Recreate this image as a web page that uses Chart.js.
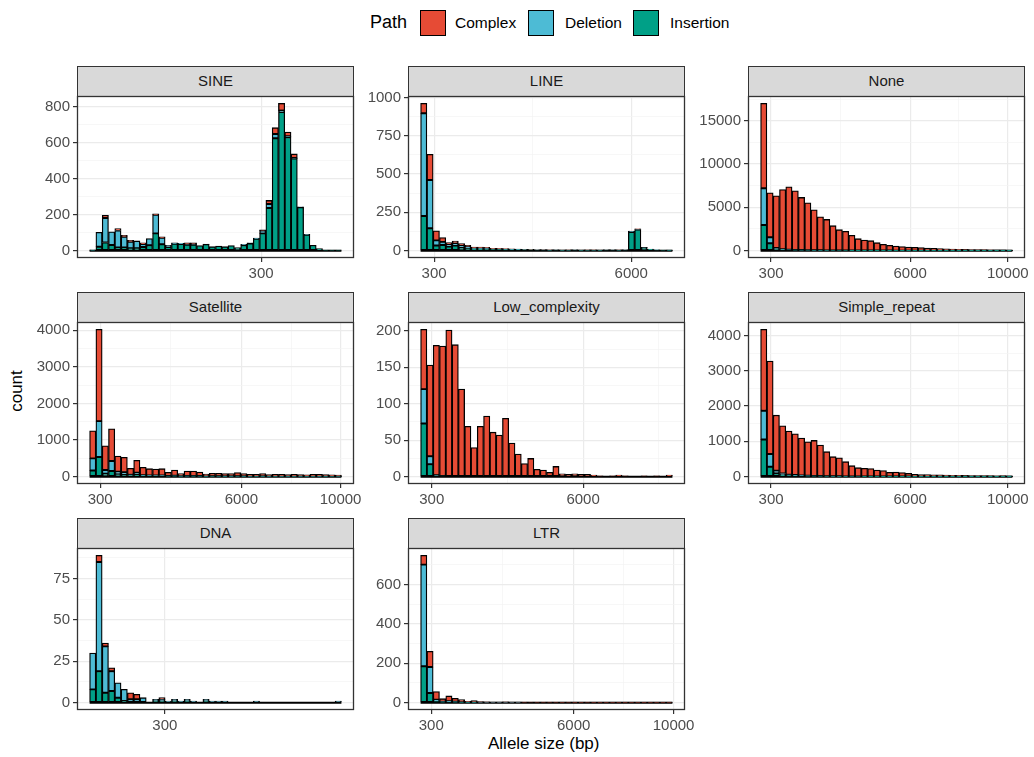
<!DOCTYPE html>
<html>
<head>
<meta charset="utf-8">
<script src="https://cdn.jsdelivr.net/npm/chart.js@4.4.1/dist/chart.umd.min.js"></script>
<style>
  body { margin: 0; width: 1034px; height: 757px; background: #fff; position: relative; overflow: hidden; font-family: "Liberation Sans", Arial, sans-serif; }
  .strip { position: absolute; height: 31px; background: #D9D9D9; border: 1.3px solid #333; box-sizing: border-box; color: #1A1A1A; font-size: 15px; text-align: center; line-height: 28px; }
  canvas { position: absolute; }
  .txt { position: absolute; white-space: nowrap; }
  .key { position: absolute; width: 24px; height: 24px; border: 1.3px solid #000; }
</style>
</head>
<body>
<div class="txt" style="left:370px;top:12px;font-size:18px;color:#000;">Path</div>
<div class="key" style="left:420px;top:10px;background:#E64B35;"></div>
<div class="txt" style="left:455px;top:14px;font-size:15.5px;">Complex</div>
<div class="key" style="left:528px;top:10px;background:#4DBBD5;"></div>
<div class="txt" style="left:565px;top:14px;font-size:15.5px;">Deletion</div>
<div class="key" style="left:633px;top:10px;background:#00A087;"></div>
<div class="txt" style="left:670px;top:14px;font-size:15.5px;">Insertion</div>
<div class="txt" style="left:-4px;top:381px;font-size:17px;transform:rotate(-90deg);">count</div>
<div class="txt" style="left:488px;top:734px;font-size:17px;">Allele size (bp)</div>
<div id="panels"></div>
<script>
const panelNames = ["SINE", "LINE", "None", "Satellite", "Low_complexity", "Simple_repeat", "DNA", "LTR"];
const binWidths = [9.45, 182, 258, 254, 237, 258, 22.3, 252];
const firstBins = [47.25, 0, 0, 0, 0, 0, 44.6, 0];

const xTicks = [[300], [300, 6000], [300, 6000, 10000], [300, 6000, 10000], [300, 6000], [300, 6000, 10000], [300], [300, 6000, 10000]];
const yTicks = [
  [0, 200, 400, 600, 800],
  [0, 250, 500, 750, 1000],
  [0, 5000, 10000, 15000],
  [0, 1000, 2000, 3000, 4000],
  [0, 50, 100, 150, 200],
  [0, 1000, 2000, 3000, 4000],
  [0, 25, 50, 75],
  [0, 200, 400, 600],
];

const sineInsertion = [2, 22, 45, 31, 18, 18, 13, 13, 20, 30, 96, 35, 20, 38, 36, 33, 33, 28, 35, 22, 26, 22, 28, 17, 30, 40, 66, 96, 237, 624, 770, 630, 511, 241, 88, 30, 11, 3, 2, 2];
const sineDeletion = [1, 80, 136, 74, 94, 59, 36, 41, 17, 37, 103, 36, 10, 5, 5, 5, 5, 0, 2, 0, 0, 0, 0, 0, 5, 4, 4, 15, 22, 24, 8, 5, 4, 2, 3, 0, 0, 0, 0, 0];
const sineComplex = [0, 0, 15, 0, 10, 8, 8, 0, 7, 0, 5, 5, 0, 0, 0, 5, 6, 0, 0, 0, 0, 0, 0, 0, 0, 0, 0, 4, 20, 35, 40, 24, 22, 0, 0, 0, 0, 0, 0, 0];

const lineInsertion = [226, 146, 33, 37, 26, 33, 20, 15, 12, 12, 11, 8, 8, 7, 6, 6, 5, 5, 4, 4, 3, 4, 2, 3, 4, 2, 3, 3, 2, 4, 4, 3, 4, 122, 138, 20, 9, 4, 3, 2];
const lineDeletion = [670, 315, 34, 20, 17, 15, 16, 10, 6, 6, 5, 3, 3, 3, 2, 2, 2, 1, 1, 1, 1, 1, 1, 1, 1, 1, 1, 1, 1, 1, 1, 1, 1, 4, 3, 1, 1, 1, 0, 1];
const lineComplex = [65, 167, 63, 28, 9, 15, 10, 10, 6, 6, 6, 4, 4, 3, 3, 2, 2, 2, 1, 2, 1, 1, 1, 1, 1, 1, 1, 1, 1, 1, 1, 1, 1, 2, 2, 1, 0, 0, 0, 0];

const noneInsertion = [2950, 845, 200, 100, 80, 60, 50, 40, 30, 25, 20, 15, 12, 10, 8, 6, 5, 5, 4, 4, 3, 3, 3, 2, 2, 2, 2, 2, 1, 1, 1, 1, 1, 1, 1, 1, 1, 1, 1, 1];
const noneDeletion = [4250, 690, 100, 50, 40, 30, 25, 20, 15, 12, 10, 8, 6, 5, 4, 3, 3, 2, 2, 2, 2, 1, 1, 1, 1, 1, 1, 1, 1, 1, 1, 1, 1, 1, 1, 1, 1, 1, 1, 1];
const noneComplex = [9800, 5145, 6030, 6910, 7250, 6810, 6065, 5465, 4675, 3863, 3570, 2857, 2402, 2210, 1753, 1371, 1222, 1143, 914, 724, 610, 536, 456, 417, 382, 342, 297, 267, 228, 198, 178, 158, 138, 128, 118, 108, 98, 88, 78, 68];

const satInsertion = [170, 536, 80, 155, 70, 60, 30, 50, 25, 20, 20, 20, 10, 15, 8, 12, 12, 10, 6, 8, 8, 6, 6, 8, 6, 5, 5, 6, 4, 5, 5, 4, 4, 4, 4, 5, 4, 4, 3, 3];
const satDeletion = [330, 982, 100, 272, 66, 58, 20, 60, 15, 15, 12, 12, 6, 10, 5, 8, 8, 6, 4, 5, 5, 4, 4, 5, 4, 3, 3, 4, 3, 3, 3, 3, 3, 3, 3, 3, 3, 3, 2, 2];
const satComplex = [755, 2509, 665, 883, 429, 409, 177, 335, 215, 183, 178, 186, 102, 157, 69, 135, 135, 111, 63, 78, 78, 72, 72, 97, 72, 56, 56, 72, 48, 52, 56, 48, 53, 48, 43, 52, 57, 48, 45, 35];

const lowInsertion = [73, 17, 1, 1, 0, 0, 0, 0, 0, 0, 0, 0, 0, 0, 0, 0, 0, 0, 0, 0, 0, 0, 0, 0, 0, 0, 0, 0, 0, 0, 0, 0, 0, 0, 0, 0, 0, 0, 0, 0];
const lowDeletion = [47, 11, 1, 0, 0, 0, 0, 0, 0, 0, 0, 0, 0, 0, 0, 0, 0, 0, 0, 0, 0, 0, 0, 0, 0, 0, 0, 0, 0, 0, 0, 0, 0, 0, 0, 0, 0, 0, 0, 0];
const lowComplex = [82, 125, 178, 178, 201, 181, 120, 69, 40, 69, 83, 61, 57, 80, 46, 31, 18, 25, 10, 9, 6, 14, 4, 3, 4, 3, 3, 2, 1, 0, 1, 2, 1, 0, 0, 1, 0, 1, 0, 2];

const simpleInsertion = [1054, 282, 94, 50, 30, 25, 20, 15, 12, 10, 8, 6, 5, 4, 3, 3, 2, 2, 2, 2, 1, 1, 1, 1, 1, 1, 1, 1, 1, 1, 1, 1, 1, 1, 1, 1, 1, 1, 1, 1];
const simpleDeletion = [810, 358, 76, 40, 25, 20, 15, 12, 10, 8, 6, 5, 4, 3, 3, 2, 2, 2, 2, 1, 1, 1, 1, 1, 1, 1, 1, 1, 1, 1, 1, 1, 1, 1, 1, 1, 1, 1, 1, 1];
const simpleComplex = [2306, 2635, 1570, 1350, 1235, 1169, 1057, 961, 1003, 876, 692, 554, 527, 416, 304, 249, 231, 222, 184, 167, 120, 130, 111, 92, 64, 58, 53, 48, 46, 43, 38, 36, 33, 31, 28, 28, 26, 23, 28, 18];

const dnaInsertion = [8, 19, 6, 7, 3, 1, 0, 0, 0, 0, 1, 1, 0, 1, 0, 1, 0, 0, 1, 0, 0, 0, 0, 0, 0, 0, 0, 0, 0, 0, 0, 0, 0, 0, 0, 0, 0, 0, 0, 0];
const dnaDeletion = [22, 66, 28, 12, 9, 7, 2, 2, 3, 0, 1, 1, 1, 1, 1, 1, 1, 0, 1, 1, 1, 1, 0, 0, 0, 0, 1, 0, 0, 0, 0, 0, 0, 0, 0, 0, 0, 0, 0, 1];
const dnaComplex = [0, 4, 2, 2, 0, 0, 4, 3, 0, 0, 0, 1, 0, 0, 0, 0, 0, 0, 0, 0, 0, 0, 0, 0, 0, 0, 0, 0, 0, 0, 0, 0, 0, 0, 0, 0, 0, 0, 0, 0];

const ltrInsertion = [185, 49, 5, 2, 3, 2, 1, 1, 1, 0, 0, 0, 0, 0, 0, 0, 0, 0, 0, 0, 0, 0, 0, 0, 0, 0, 0, 0, 0, 0, 0, 0, 0, 0, 0, 0, 0, 0, 0, 0];
const ltrDeletion = [517, 132, 10, 3, 4, 3, 2, 1, 1, 1, 1, 1, 1, 1, 1, 1, 0, 0, 0, 0, 0, 0, 0, 0, 0, 0, 0, 0, 0, 0, 0, 0, 0, 0, 0, 0, 0, 0, 0, 0];
const ltrComplex = [47, 80, 41, 15, 27, 17, 12, 5, 8, 4, 3, 2, 2, 3, 2, 2, 2, 3, 2, 2, 2, 2, 1, 2, 1, 1, 2, 1, 1, 1, 1, 1, 1, 1, 1, 1, 1, 1, 1, 1];

const insertions = [sineInsertion, lineInsertion, noneInsertion, satInsertion, lowInsertion, simpleInsertion, dnaInsertion, ltrInsertion];
const deletions = [sineDeletion, lineDeletion, noneDeletion, satDeletion, lowDeletion, simpleDeletion, dnaDeletion, ltrDeletion];
const complexes = [sineComplex, lineComplex, noneComplex, satComplex, lowComplex, simpleComplex, dnaComplex, ltrComplex];

const colLeft = [77, 408, 748];
const rowTop = [96, 322, 548];
const plotW = 277;
const plotH = 162;
const axisW = 60;
const axisH = 28;
const padTop = 12;
const padRight = 25;

const minorBreaks = (b, lo, hi) => {
  if (b.length < 2) return [];
  const d = b[1] - b[0];
  const ext = [b[0] - d, ...b, b[b.length - 1] + d];
  const out = [];
  for (let i = 0; i < ext.length - 1; i++) out.push((ext[i] + ext[i + 1]) / 2);
  return out.filter((v) => v > lo && v < hi);
};

const panelBorder = {
  id: "panelBorder",
  afterDraw(chart) {
    const { ctx, chartArea: a } = chart;
    ctx.save();
    ctx.strokeStyle = "#333333";
    ctx.lineWidth = 1.3;
    ctx.strokeRect(a.left + 0.5, a.top + 0.5, a.right - a.left - 1, a.bottom - a.top - 1);
    ctx.restore();
  },
};

const axisFor = (majors, lo, hi, isX) => {
  const minors = minorBreaks(majors, lo, hi);
  const isMajor = (v) => majors.includes(v);
  return {
    min: lo,
    max: hi,
    afterBuildTicks: (scale) => {
      scale.ticks = [...majors, ...minors].sort((a, b) => a - b).map((v) => ({ value: v }));
    },
    afterFit: (scale) => {
      if (isX) scale.height = axisH;
      else scale.width = axisW;
      scale.paddingTop = 0;
      scale.paddingBottom = 0;
      scale.paddingLeft = 0;
      scale.paddingRight = 0;
    },
    border: { display: false },
    grid: {
      color: (c) => (c.tick && isMajor(c.tick.value) ? "#EBEBEB" : "#F3F3F3"),
      lineWidth: (c) => (c.tick && isMajor(c.tick.value) ? 1.2 : 0.7),
      drawTicks: true,
      tickLength: 4,
      tickWidth: 1.2,
      tickColor: (c) => (c.tick && isMajor(c.tick.value) ? "#333333" : "rgba(0,0,0,0)"),
      offset: false,
    },
    ticks: {
      autoSkip: false,
      maxRotation: 0,
      minRotation: 0,
      padding: 3,
      color: "#4D4D4D",
      font: { family: "Liberation Sans", size: 15 },
      callback: (v) => (isMajor(v) ? String(v) : ""),
    },
  };
};

const drawPanel = (idx) => {
  const col = idx % 3;
  const row = Math.floor(idx / 3);
  const left = colLeft[col];
  const top = rowTop[row];

  const strip = document.createElement("div");
  strip.className = "strip";
  strip.style.left = `${left}px`;
  strip.style.top = `${top - 30}px`;
  strip.style.width = `${plotW}px`;
  strip.textContent = panelNames[idx];
  document.getElementById("panels").appendChild(strip);

  const canvas = document.createElement("canvas");
  canvas.width = axisW + plotW + padRight;
  canvas.height = padTop + plotH + axisH;
  canvas.style.left = `${left - axisW}px`;
  canvas.style.top = `${top - padTop}px`;
  document.getElementById("panels").appendChild(canvas);

  const w = binWidths[idx];
  const x0 = firstBins[idx];
  const ins = insertions[idx];
  const del = deletions[idx];
  const cx = complexes[idx];
  const n = ins.length;
  const toPoints = (arr) => arr.map((v, i) => ({ x: x0 + i * w, y: v }));
  const totals = ins.map((v, i) => v + del[i] + cx[i]);
  const yMax = Math.max(...totals);

  new Chart(canvas.getContext("2d"), {
    type: "bar",
    data: {
      datasets: [
        { label: "Insertion", data: toPoints(ins), backgroundColor: "#00A087", stack: "path" },
        { label: "Deletion", data: toPoints(del), backgroundColor: "#4DBBD5", stack: "path" },
        { label: "Complex", data: toPoints(cx), backgroundColor: "#E64B35", stack: "path" },
        {
          type: "line",
          label: "empty",
          data: [{ x: x0 - w / 2, y: 0 }, { x: x0 + (n - 0.5) * w, y: 0 }],
          borderColor: "#000000",
          borderWidth: 2,
          pointRadius: 0,
          stack: "base",
        },
      ],
    },
    options: {
      animation: false,
      responsive: false,
      maintainAspectRatio: false,
      layout: { padding: { left: 0, right: padRight, top: padTop, bottom: 0 } },
      plugins: { legend: { display: false }, tooltip: { enabled: false } },
      datasets: {
        bar: { barPercentage: 1, categoryPercentage: 1, borderColor: "#000000", borderWidth: 1.3, borderSkipped: false },
      },
      scales: {
        x: { type: "linear", offset: false, ...axisFor(xTicks[idx], x0 - w / 2 - 0.05 * n * w, x0 + (n - 0.5) * w + 0.05 * n * w, true) },
        y: { type: "linear", stacked: true, ...axisFor(yTicks[idx], -0.05 * yMax, 1.05 * yMax, false) },
      },
    },
    plugins: [panelBorder],
  });
};

panelNames.forEach((_, i) => drawPanel(i));
</script>
</body>
</html>
